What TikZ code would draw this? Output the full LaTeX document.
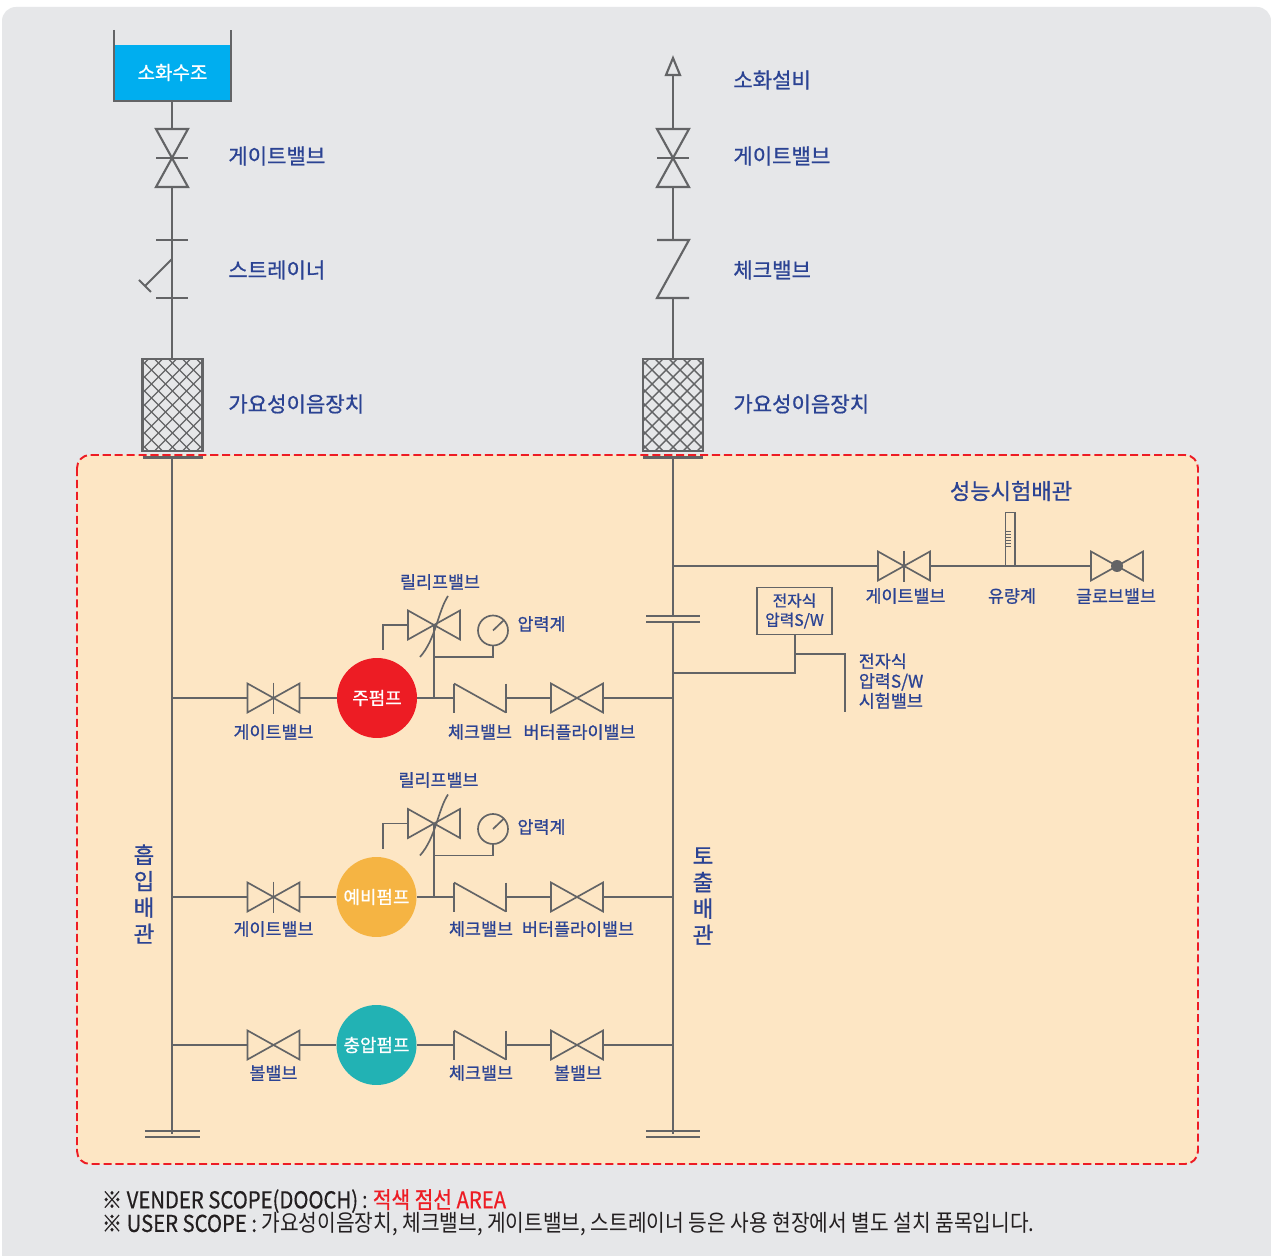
\documentclass[tikz,border=0pt]{standalone}
\usepackage{fontspec}
\setmainfont{Noto Sans CJK KR}
\newfontfamily\kr[FakeBold=0.8]{Noto Sans CJK KR}
\newfontfamily\krnote[FakeStretch=0.875]{Noto Sans CJK KR}
\newfontfamily\krnoteb[FakeStretch=0.875,FakeBold=0.6]{Noto Sans CJK KR}
\definecolor{panel}{HTML}{E6E7E9}
\definecolor{scopefill}{HTML}{FDE6C4}
\definecolor{scopered}{HTML}{ED1C24}
\definecolor{pipegray}{HTML}{636466}
\definecolor{labelblue}{HTML}{2B4393}
\definecolor{tankblue}{HTML}{00AEEF}
\definecolor{pumpred}{HTML}{ED1C24}
\definecolor{pumporange}{HTML}{F5B443}
\definecolor{pumpteal}{HTML}{22B2B4}
\definecolor{notedark}{HTML}{231F20}
\tikzset{
	pipe/.style={draw=pipegray, line width=1.2pt},
	thinpipe/.style={draw=pipegray, line width=0.95pt},
	biglabel/.style={font=\fontsize{12}{14}\selectfont\kr, text=labelblue, inner sep=0, yshift=-0.02cm},
	smalllabel/.style={font=\fontsize{9.9}{11.3}\selectfont\kr, text=labelblue, inner sep=0, align=center, yshift=-0.02cm},
	sidelabel/.style={font=\fontsize{12.8}{15}\selectfont\kr, text=labelblue, inner sep=0, align=center},
	pump/.style={circle, minimum size=1.6cm, inner sep=0, text=white, font=\fontsize{10.2}{12}\selectfont\kr},
	note/.style={font=\fontsize{13.2}{15}\selectfont\krnote, text=notedark, inner sep=0, anchor=west},
	bowtie/.pic={
		\draw[thinpipe, line join=miter] (-26,-14.5) -- (26,14.5) -- (26,-14.5) -- (-26,14.5) -- cycle;
		\coordinate (-w) at (-26,0);
		\coordinate (-e) at (26,0);
	},
	gateh/.pic={
		\pic (-b) at (0,0) {bowtie};
		\draw[thinpipe] (0,-15.5) -- (0,15.5);
		\coordinate (-w) at (-26,0);
		\coordinate (-e) at (26,0);
	},
	globeh/.pic={
		\pic (-b) at (0,0) {bowtie};
		\fill[pipegray] (0,0) circle (0.12cm);
		\coordinate (-w) at (-26,0);
		\coordinate (-e) at (26,0);
	},
	checkh/.pic={
		\draw[thinpipe] (-26,-14.5) -- (-26,14.5);
		\draw[thinpipe] (-26,-14.5) -- (26,14.5);
		\draw[thinpipe] (26,-14.5) -- (26,14.5);
		\coordinate (-w) at (-26,0);
		\coordinate (-e) at (26,0);
	},
	gatev/.pic={
		\draw[pipe, line join=miter] (-16,-29) -- (16,-29) -- (-16,29) -- (16,29) -- cycle;
		\draw[pipe] (-16,0) -- (16,0);
		\coordinate (-n) at (0,-29);
		\coordinate (-s) at (0,29);
	},
	flexjoint/.pic={
		\begin{scope}
			\clip (-30,-46) rectangle (30,46);
			\foreach \c in {-84,-70,...,84} {
				\draw[draw=pipegray, line width=0.8pt] (\c-46,-46) -- (\c+46,46);
				\draw[draw=pipegray, line width=0.8pt] (\c-46,46) -- (\c+46,-46);
			}
		\end{scope}
		\draw[pipe] (-30,-46) rectangle (30,46);
		\draw[pipe] (-30,52.5) -- (30,52.5);
		\coordinate (-n) at (0,-46);
		\coordinate (-s) at (0,52.5);
	}
}
\begin{document}
\begin{tikzpicture}[x=0.02cm, y=-0.02cm]
	\useasboundingbox (0,0) rectangle (1271,1256);
	\fill[white] (0,0) rectangle (1271,1256);
	\fill[panel, rounded corners=0.28cm] (2,7) rectangle (1271,1290);
	\draw[fill=scopefill, draw=scopered, line width=1.1pt, dash pattern=on 4.6pt off 2.2pt, rounded corners=0.26cm] (77,455) rectangle (1198,1164);

	\fill[tankblue] (114,45) rectangle (231,101);
	\draw[pipe] (114,30) -- (114,101) -- (231,101) -- (231,30);
	\node[font=\fontsize{10.8}{12}\selectfont\kr, text=white, inner sep=0] (tank) at (172.5,72.5) {소화수조};
	\coordinate (tankout) at (172,101);

	\pic (gvs) at (172,158) {gatev};
	\coordinate (strtop) at (172,240);
	\coordinate (strbot) at (172,298);
	\coordinate (strtip) at (145,286);
	\pic (fxs) at (172.5,405) {flexjoint};
	\coordinate (fxstop) at (172,359);
	\coordinate (fxsbase) at (172,457.5);
	\coordinate (sucbot) at (172,1134);

	\draw[pipe] (tankout) -- (gvs-n);
	\draw[pipe] (gvs-s) -- (fxstop);
	\draw[pipe] (156,240) -- (188,240);
	\draw[pipe] (156,298) -- (188,298);
	\draw[pipe] (172,259) -- (strtip);
	\draw[pipe] (139,280) -- (151,292);
	\draw[pipe] (fxsbase) -- (sucbot);
	\draw[pipe] (145,1131) -- (200,1131);
	\draw[pipe] (145,1137) -- (200,1137);

	\draw[pipe, line join=miter] (666,75) -- (673,58) -- (680,75) -- cycle;
	\coordinate (arrowbase) at (673,75);
	\pic (gvd) at (673,158) {gatev};
	\coordinate (cvdtop) at (673,240);
	\coordinate (cvdbot) at (673,298);
	\pic (fxd) at (673,405) {flexjoint};
	\coordinate (disgap) at (673,616);
	\coordinate (disgapb) at (673,622);
	\coordinate (disbot) at (673,1134);
	\coordinate (testtee) at (673,566);

	\draw[pipe] (arrowbase) -- (gvd-n);
	\draw[pipe] (gvd-s) -- (cvdtop);
	\draw[pipe] (657,240) -- (689,240) -- (657,298) -- (689,298);
	\draw[pipe] (cvdbot) -- (fxd-n);
	\draw[pipe] (fxd-s) -- (disgap);
	\draw[pipe] (646,616) -- (700,616);
	\draw[pipe] (646,622) -- (700,622);
	\draw[pipe] (disgapb) -- (disbot);
	\draw[pipe] (646,1131) -- (700,1131);
	\draw[pipe] (646,1137) -- (700,1137);

	\node[biglabel, anchor=west] (lgvs) at (228,155) {게이트밸브};
	\node[biglabel, anchor=west] (lstr) at (228,269) {스트레이너};
	\node[biglabel, anchor=west] (lfxs) at (228,403) {가요성이음장치};
	\node[biglabel, anchor=west] (lfire) at (733,79) {소화설비};
	\node[biglabel, anchor=west] (lgvd) at (733,155) {게이트밸브};
	\node[biglabel, anchor=west] (lcvd) at (733,269) {체크밸브};
	\node[biglabel, anchor=west] (lfxd) at (733,403) {가요성이음장치};

	\node[pump, fill=pumpred] (pumpa) at (377,698) {주펌프};
	\node[pump, fill=pumporange] (pumpb) at (376.5,897) {예비펌프};
	\node[pump, fill=pumpteal] (pumpc) at (376.5,1045) {충압펌프};

	\pic (gva) at (273.5,698) {gateh};
	\pic (cva) at (480,698) {checkh};
	\pic (bfa) at (577,698) {bowtie};
	\pic (gvb) at (273.5,897) {gateh};
	\pic (cvb) at (480,897) {checkh};
	\pic (bfb) at (577,897) {bowtie};
	\pic (gvc) at (273.5,1045) {bowtie};
	\pic (cvc) at (480,1045) {checkh};
	\pic (bfc) at (577,1045) {bowtie};

	\foreach \n in {a,b,c} {
		\draw[pipe] (sucbot |- gv\n-w) -- (gv\n-w);
		\draw[pipe] (gv\n-e) -- (pump\n);
		\draw[pipe] (pump\n) -- (cv\n-w);
		\draw[pipe] (cv\n-e) -- (bf\n-w);
		\draw[pipe] (bf\n-e) -- (disbot |- bf\n-e);
	}

	\foreach \n/\r in {a/625,b/823.5} {
		\pic (rv\n) at (434,\r) {bowtie};
		\draw[thinpipe] (448,\r-29) .. controls (438,\r-14) and (436,\r+14) .. (420,\r+32);
		\draw[thinpipe] (rv\n-w) -- (383,\r) -- (383,\r+25);
		\coordinate (rvfoot\n) at (434,\r+32);
		\coordinate (rvmid\n) at (434,\r);
		\node[circle, thinpipe, draw, minimum size=0.6cm, inner sep=0] (pg\n) at (493,\r+5.5) {};
		\draw[thinpipe] (pg\n.center) -- (504,\r-5);
		\draw[thinpipe] (pg\n) -- (pg\n |- rvfoot\n) -- (rvfoot\n);
		\draw[pipe] (rvmid\n) -- (rvmid\n |- pump\n);
	}

	\draw[pipe] (testtee) -- (878,566);
	\pic (gvt) at (904,566) {gateh};
	\pic (glt) at (1117,566) {globeh};
	\draw[pipe] (gvt-e) -- (glt-w);
	\draw[thinpipe] (1005.5,512.5) rectangle (1015,566);
	\foreach \y in {531,534,537,540,543,546} {
		\draw[pipegray, line width=0.5pt] (1006,\y) -- (1011,\y);
	}

	\node[draw=pipegray, line width=1.1pt, minimum width=1.5cm, minimum height=0.94cm, inner sep=0] (psbox) at (794.5,611) {};
	\node[smalllabel, font=\fontsize{9}{11}\selectfont\kr] (lps) at (794.5,610) {전자식\\압력S/W};
	\coordinate (psjoin) at (795,673);
	\coordinate (psbranch) at (795,654);
	\coordinate (pstest) at (845,712);
	\draw[pipe] (psbox.south -| psjoin) -- (psjoin) -- (disbot |- psjoin);
	\draw[thinpipe] (psbranch) -- (pstest |- psbranch) -- (pstest);

	\node[font=\fontsize{12.6}{14}\selectfont\kr, text=labelblue, inner sep=0] (ltest) at (1011,491) {성능시험배관};
	\node[smalllabel] (lgvt) at (905.5,595) {게이트밸브};
	\node[smalllabel] (lfm) at (1012,595) {유량계};
	\node[smalllabel] (lglt) at (1116,595) {글로브밸브};
	\node[smalllabel, anchor=north west, align=left] (lpst) at (858.5,652) {전자식\\압력S/W\\시험밸브};

	\node[smalllabel] (lrva) at (440,581) {릴리프밸브};
	\node[smalllabel] (lpga) at (541.5,623) {압력계};
	\node[smalllabel] (lgva) at (273.5,731) {게이트밸브};
	\node[smalllabel] (lcva) at (480,731) {체크밸브};
	\node[smalllabel] (lbfa) at (579.5,731) {버터플라이밸브};
	\node[smalllabel] (lrvb) at (438.5,779) {릴리프밸브};
	\node[smalllabel] (lpgb) at (541.5,826) {압력계};
	\node[smalllabel] (lgvb) at (273.5,928) {게이트밸브};
	\node[smalllabel] (lcvb) at (481,928) {체크밸브};
	\node[smalllabel] (lbfb) at (578,928) {버터플라이밸브};
	\node[smalllabel] (lgvc) at (273.5,1072) {볼밸브};
	\node[smalllabel] (lcvc) at (481,1072) {체크밸브};
	\node[smalllabel] (lbfc) at (578,1072) {볼밸브};

	\node[sidelabel] (lsuc) at (144,894) {흡\\입\\배\\관};
	\node[sidelabel] (ldis) at (703,896) {토\\출\\배\\관};

	\node[note] (notea) at (101.5,1201) {{\krnoteb ※ VENDER SCOPE(DOOCH)} : \textcolor{scopered}{\krnoteb 적색 점선 AREA}};
	\node[note] (noteb) at (101.5,1224.5) {{\krnoteb ※ USER SCOPE :} 가요성이음장치, 체크밸브, 게이트밸브, 스트레이너 등은 사용 현장에서 별도 설치 품목입니다.};
\end{tikzpicture}
\end{document}
